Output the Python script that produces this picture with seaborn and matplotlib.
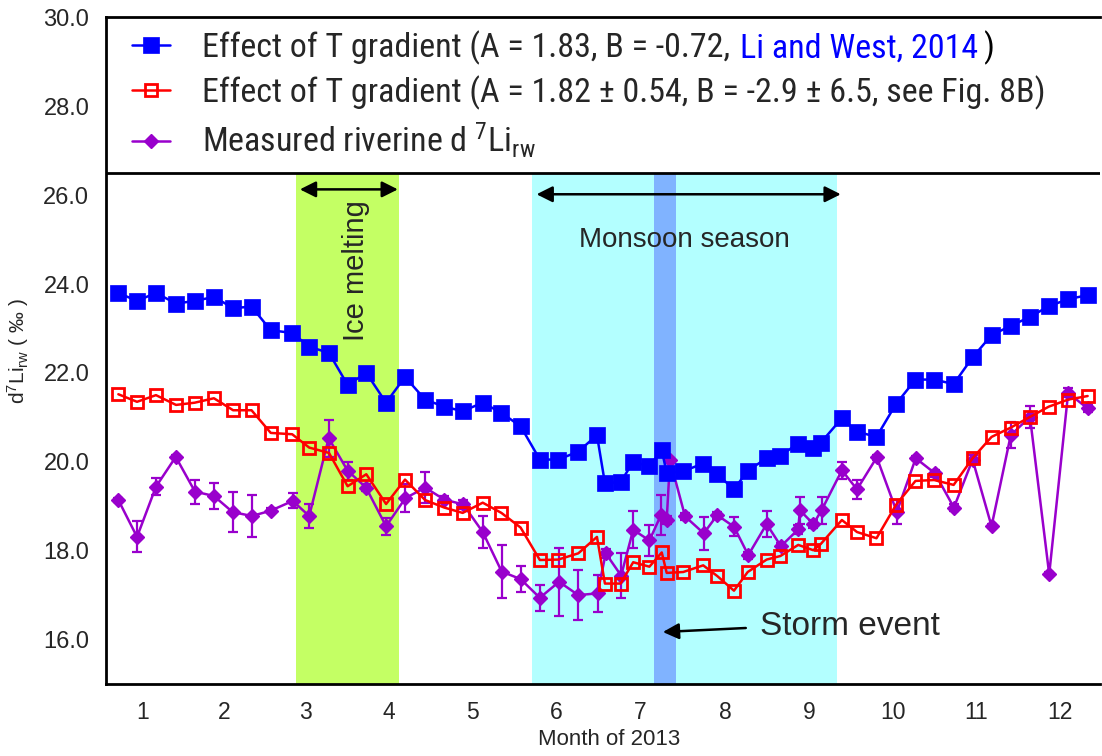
import numpy as np
import matplotlib
matplotlib.use("Agg")
import matplotlib.pyplot as plt
import seaborn as sns
from matplotlib import font_manager as fm
from matplotlib.font_manager import FontProperties

# ---------------- data (x = day of year 2013) ----------------
model_days = [4.5, 11.3, 18.2, 25.5, 32.3, 39.3, 46.3, 53.0, 60.0, 67.8,
              74.0, 81.2, 88.0, 94.8, 102.0, 108.9, 116.2, 123.2, 129.9, 137.2,
              144.0, 151.0, 158.0, 164.7, 172.0, 178.8, 181.7, 187.4, 192.0, 197.9,
              202.4, 204.2, 210.2, 217.5, 222.6, 228.7, 233.7, 240.6, 245.6, 252.1,
              257.6, 260.3, 268.0, 273.5, 280.6, 287.7, 294.8, 301.6, 308.7, 315.6,
              322.5, 329.5, 336.5, 343.3, 350.4, 357.5]

blue_li_west = [23.80, 23.62, 23.80, 23.56, 23.62, 23.71, 23.46, 23.49, 22.96, 22.90,
                22.59, 22.45, 21.73, 22.00, 21.33, 21.91, 21.40, 21.24, 21.14, 21.33,
                21.10, 20.80, 20.05, 20.05, 20.23, 20.60, 19.52, 19.54, 20.00, 19.90,
                20.26, 19.75, 19.79, 19.96, 19.72, 19.38, 19.80, 20.08, 20.14, 20.41,
                20.30, 20.43, 20.98, 20.68, 20.56, 21.30, 21.85, 21.85, 21.75, 22.35,
                22.85, 23.06, 23.26, 23.50, 23.66, 23.75]

red_fig8b = [21.52, 21.35, 21.50, 21.28, 21.33, 21.43, 21.16, 21.16, 20.65, 20.62,
             20.32, 20.20, 19.45, 19.72, 19.05, 19.60, 19.14, 18.97, 18.85, 19.08,
             18.85, 18.52, 17.79, 17.80, 17.94, 18.31, 17.26, 17.26, 17.74, 17.64,
             17.96, 17.50, 17.52, 17.67, 17.43, 17.10, 17.52, 17.80, 17.88, 18.13,
             18.01, 18.15, 18.69, 18.42, 18.28, 19.03, 19.57, 19.59, 19.48, 20.08,
             20.56, 20.77, 21.01, 21.24, 21.40, 21.48]

meas_days = [4.5, 11.3, 18.2, 25.4, 32.4, 39.3, 46.1, 53.1, 60.0, 68.0,
             74.0, 81.1, 88.0, 94.7, 102.0, 109.0, 116.2, 123.2, 130.1, 137.2,
             144.1, 151.0, 158.0, 165.0, 172.0, 179.0, 182.0, 187.6, 192.0, 197.9,
             202.1, 204.2, 205.4, 210.9, 217.7, 222.6, 228.7, 233.9, 240.6, 245.8,
             252.1, 252.7, 257.6, 260.6, 268.0, 273.5, 280.7, 288.0, 294.9, 301.9,
             308.8, 315.6, 322.5, 329.5, 336.5, 343.5, 350.4, 357.5]

meas_vals = [19.14, 18.31, 19.44, 20.11, 19.33, 19.23, 18.87, 18.78, 18.90, 19.12,
             18.78, 20.53, 19.80, 19.42, 18.55, 19.18, 19.42, 19.15, 19.04, 18.42,
             17.53, 17.36, 16.94, 17.30, 17.00, 17.04, 17.94, 17.44, 18.47, 18.23,
             18.80, 18.69, 20.04, 18.77, 18.39, 18.80, 18.54, 17.90, 18.60, 18.10,
             18.48, 18.91, 18.60, 18.91, 19.81, 19.38, 20.10, 18.87, 20.08, 19.74,
             18.97, 20.05, 18.55, 20.60, 21.01, 17.47, 21.55, 21.20]

meas_err = [0.05, 0.35, 0.19, 0.05, 0.27, 0.30, 0.46, 0.47, 0.05, 0.17,
            0.26, 0.42, 0.20, 0.08, 0.19, 0.32, 0.34, 0.08, 0.10, 0.36,
            0.59, 0.29, 0.29, 0.77, 0.56, 0.41, 0.10, 0.50, 0.42, 0.34,
            0.45, 0.10, 0.05, 0.08, 0.37, 0.08, 0.22, 0.08, 0.29, 0.08,
            0.10, 0.30, 0.08, 0.30, 0.19, 0.21, 0.05, 0.26, 0.05, 0.08,
            0.08, 0.10, 0.05, 0.30, 0.24, 0.05, 0.10, 0.08]

month_labels = ["1", "2", "3", "4", "5", "6", "7", "8", "9", "10", "11", "12"]
month_lengths = [31, 28, 31, 30, 31, 30, 31, 31, 30, 31, 30, 31]
y_tick_values = [16, 18, 20, 22, 24, 26, 28, 30]

ice_period = (69.2, 106.7)
monsoon_period = (155.1, 266.2)
storm_period = (199.6, 207.6)

label_blue = "Effect of T gradient (A = 1.83, B = -0.72,"
label_blue_ref = "Li and West, 2014"
label_red = "Effect of T gradient (A = 1.82 \u00b1 0.54, B = -2.9 \u00b1 6.5, see Fig. 8B)"
label_meas = r"Measured riverine d $^{\mathregular{7}}$Li$_{\mathregular{rw}}$"
y_label = r"d$^{\mathregular{7}}$Li$_{\mathregular{rw}}$ ( " + "\u2030" + " )"

# ---------------- style ----------------
sns.set_style("white")
entries = fm.fontManager.ttflist
names = {f.name for f in entries}
base = "Liberation Sans" if "Liberation Sans" in names else "DejaVu Sans"
plt.rcParams["font.family"] = [base, "DejaVu Sans"]
plt.rcParams["mathtext.fontset"] = "custom"
plt.rcParams["mathtext.rm"] = base
plt.rcParams["mathtext.it"] = base + ":italic"

# condensed font for the legend if one exists
leg_prop = None
for cand in ["Liberation Sans Narrow", "Arial Narrow", "Roboto Condensed",
             "Open Sans Condensed"]:
    if cand in names:
        leg_prop = FontProperties(family=cand, size=24.5)
        break
if leg_prop is None:
    cond = [f for f in entries if f.name == "DejaVu Sans" and str(f.stretch) in
            ("condensed", "semi-condensed", "500", "semi_condensed")]
    if cond:
        leg_prop = FontProperties(fname=cond[0].fname, size=23)
    else:
        leg_prop = FontProperties(family=base, size=22)
fs_leg = leg_prop.get_size_in_points()

BLUE = "#0000FF"
RED = "#FF0000"
PURPLE = "#9900CC"

W, H = 1102, 756
fig = plt.figure(figsize=(W / 100, H / 100), dpi=100)
ax = fig.add_axes([106 / W, 72 / H, 994 / W, 666.6 / H])

YMAX_BAND = (26.5 - 15) / 15
ax.axvspan(*ice_period, ymin=0, ymax=YMAX_BAND, color="#C4FF64", lw=0, zorder=0)
ax.axvspan(*monsoon_period, ymin=0, ymax=YMAX_BAND, color="#B3FFFF", lw=0, zorder=0)
ax.axvspan(*storm_period, ymin=0, ymax=YMAX_BAND, color="#80B3FF", lw=0, zorder=0.5)

# measured
ax.errorbar(meas_days, meas_vals, yerr=meas_err, fmt="none", ecolor=PURPLE,
            elinewidth=1.6, capsize=3.5, capthick=1.6, zorder=2)
sns.lineplot(x=meas_days, y=meas_vals, ax=ax, sort=False, errorbar=None, legend=False,
             color=PURPLE, lw=1.8, marker="D", markersize=7.5,
             markerfacecolor=PURPLE, markeredgecolor=PURPLE, markeredgewidth=1, zorder=2)
h_meas = ax.lines[-1]

sns.lineplot(x=model_days, y=red_fig8b, ax=ax, sort=False, errorbar=None, legend=False,
             color=RED, lw=1.8, marker="s", markersize=8.5,
             markerfacecolor="none", markeredgecolor=RED, markeredgewidth=2, zorder=3)
h_red = ax.lines[-1]

sns.lineplot(x=model_days, y=blue_li_west, ax=ax, sort=False, errorbar=None, legend=False,
             color=BLUE, lw=1.8, marker="s", markersize=11.5,
             markerfacecolor=BLUE, markeredgecolor=BLUE, markeredgewidth=0.5, zorder=4)
h_blue = ax.lines[-1]

# axes
ax.set_xlim(0, 362)
ax.set_ylim(15, 30)
bounds = np.cumsum(month_lengths)
starts = np.concatenate([[0], bounds[:-1]])
centers = (starts + bounds) / 2 - 2
ax.set_xticks(centers)
ax.set_xticklabels(month_labels)
ax.set_xticks(bounds[:-1], minor=True)
ax.tick_params(axis="x", which="major", length=0, labelsize=16.5, pad=12)
ax.tick_params(axis="x", which="minor", direction="in", length=6, width=1.5)
ax.set_yticks(y_tick_values)
ax.set_yticklabels([f"{v:.1f}" for v in y_tick_values])
ax.set_yticks(np.arange(17, 30, 2), minor=True)
ax.tick_params(axis="y", which="both", direction="in", length=6, width=1.5,
               labelsize=17, pad=12)
for s in ["left", "bottom", "top"]:
    ax.spines[s].set_linewidth(2)
    ax.spines[s].set_color("black")
ax.spines["right"].set_visible(False)
ax.axhline(26.5, color="black", lw=2, zorder=5)

ax.set_xlabel("Month of 2013", fontsize=16)
ax.xaxis.set_label_coords(0.506, -0.0675)
ax.set_ylabel(y_label, fontsize=15)
ax.yaxis.set_label_coords(-0.075, 0.5)

# annotations
arrow_kw = dict(color="black", lw=1.8, mutation_scale=24, shrinkA=0, shrinkB=0)
ax.annotate("", xy=(70.6, 26.13), xytext=(106.3, 26.13),
            arrowprops=dict(arrowstyle="<|-|>", **arrow_kw))
ax.annotate("", xy=(156.8, 26.02), xytext=(267.6, 26.02),
            arrowprops=dict(arrowstyle="<|-|>", **arrow_kw))
ax.annotate("", xy=(202.8, 16.17), xytext=(233.0, 16.26),
            arrowprops=dict(arrowstyle="-|>", **arrow_kw))
ax.text(91, 24.3, "Ice melting", rotation=90, ha="center", va="center", fontsize=21)
ax.text(210.7, 25.0, "Monsoon season", ha="center", va="center", fontsize=20)
ax.text(238, 16.3, "Storm event", ha="left", va="center", fontsize=24)

# legend
leg = ax.legend([h_blue, h_red, h_meas], [label_blue, label_red, label_meas],
                loc="upper left", bbox_to_anchor=(0.026, 0.981), frameon=False,
                prop=leg_prop, handlelength=1.12, handletextpad=0.94, labelspacing=0.32,
                borderpad=0, borderaxespad=0, numpoints=1)
leg.set_zorder(6)

fig.canvas.draw()
r = fig.canvas.get_renderer()
bb = leg.get_texts()[0].get_window_extent(r)
gap = fs_leg * 0.28 * 100 / 72
t_ref = fig.text((bb.x1 + gap) / W, bb.y0 / H, label_blue_ref, color=BLUE,
                 fontproperties=leg_prop, ha="left", va="bottom")
fig.canvas.draw()
bb2 = t_ref.get_window_extent(r)
fig.text((bb2.x1 + gap * 0.6) / W, bb2.y0 / H, ")", color="black",
         fontproperties=leg_prop, ha="left", va="bottom")

fig.savefig("out.png", dpi=100)
